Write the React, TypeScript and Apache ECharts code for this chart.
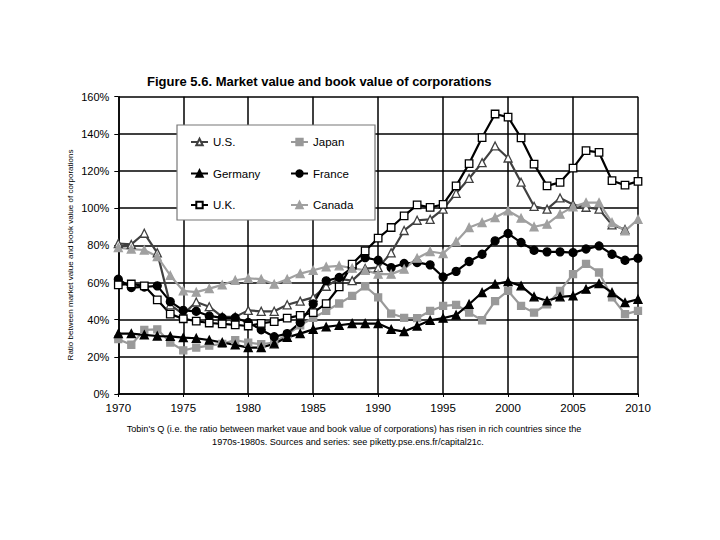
import React, { useEffect, useRef } from "react";
import * as echarts from "echarts";

const years = [
  1970, 1971, 1972, 1973, 1974, 1975, 1976, 1977, 1978, 1979,
  1980, 1981, 1982, 1983, 1984, 1985, 1986, 1987, 1988, 1989,
  1990, 1991, 1992, 1993, 1994, 1995, 1996, 1997, 1998, 1999,
  2000, 2001, 2002, 2003, 2004, 2005, 2006, 2007, 2008, 2009, 2010,
];

const us = [
  81, 80.5, 86.5, 76, 48, 43, 49.5, 47, 41.5, 41.5,
  45, 44.5, 44.5, 48, 50, 52, 58, 62, 61, 67.5,
  68, 76, 88, 93.5, 94, 99.5, 108, 116, 124.5, 133.5,
  127, 114, 101, 99.5, 105.5, 102, 100.5, 99.5, 91, 88.5, null,
];

const japan = [
  29.5, 26.5, 34.5, 34.8, 27.7, 23.5, 25, 26, 27, 29,
  27.7, 26.8, 27.7, 32, 37, 41, 44.7, 48.7, 52.8, 58,
  52, 43.3, 41, 40.8, 44.7, 47.4, 48, 43.8, 39.7, 50,
  55.5, 47.4, 43.8, 48.3, 55.5, 64.5, 70, 65.4, 52, 43, 44.7,
];

const germany = [
  32.5, 32.5, 31.8, 31.2, 31, 30.3, 30, 29, 27.7, 26.4,
  25, 25, 27, 30.5, 32.5, 34.8, 36.1, 37, 37.9, 37.9,
  37.9, 34.8, 33.6, 36.6, 39.7, 40.8, 42.5, 48.3, 54.6, 59.1,
  60.5, 58.2, 52.3, 50.1, 52.3, 52.8, 56.4, 59.4, 54.6, 49.2, 51,
];

const france = [
  61.8, 57.3, 57.6, 58.2, 49.7, 45, 44.5, 42, 41, 41,
  38.5, 34.6, 30.8, 32.5, 38.5, 48.5, 60.9, 62.7, 68, 73.4,
  72, 68, 70.2, 70.8, 69.5, 63, 66, 71.3, 75.2, 82.4,
  86.4, 81.5, 77.4, 76.5, 76.5, 76.1, 78, 79.7, 75.2, 72, 73.1,
];

const uk = [
  58.7, 59.2, 58.2, 50.7, 43, 40.5, 39.2, 38.2, 37.7, 37.2,
  36.6, 38, 39, 40.8, 42.3, 43.8, 48.6, 57.6, 69.9, 77,
  83.9, 89.6, 95.9, 101.8, 100.4, 102, 112, 124, 138, 150.7,
  149, 137.8, 123.7, 112, 113.9, 121.6, 131, 130, 114.8, 112.4, 114.4,
];

const canada = [
  78.8, 78, 77.5, 74, 63.8, 55.5, 54.8, 56.7, 58.7, 61.2,
  62.3, 61.8, 59.1, 61.8, 64.8, 66.6, 68.4, 69, 67.7, 66.6,
  64.5, 64.5, 67.2, 73.1, 76.7, 75.6, 82, 89.6, 92.3, 95,
  98.6, 94.6, 90, 91.4, 96.8, 100.7, 103, 103, 92.3, 87.8, 94,
];

const titleText = "Figure 5.6. Market value and book value of corporations";
const yAxisTitle = "Ratio between market value and book value of corporations";
const noteLine1 =
  "Tobin's Q (i.e. the ratio between market vaue and book value of corporations) has risen in rich countries since the";
const noteLine2 = "1970s-1980s. Sources and series: see piketty.pse.ens.fr/capital21c.";

const FONT = "'Liberation Sans', Arial, Helvetica, sans-serif";

const pairs = (vals: (number | null)[]) => years.map((y, i) => [y, vals[i]]);

export default function App() {
  const ref = useRef<HTMLDivElement>(null);

  useEffect(() => {
    if (!ref.current) return;
    const chart = echarts.init(ref.current, null, { renderer: "svg" });

    const lineSeries = (
      name: string,
      vals: (number | null)[],
      color: string,
      symbol: string,
      fill: string,
      size: number
    ) => ({
      name,
      type: "line",
      data: pairs(vals),
      symbol,
      symbolSize: size,
      showAllSymbol: true,
      connectNulls: false,
      lineStyle: { color, width: 2.2 },
      itemStyle: { color: fill, borderColor: color, borderWidth: 1.3 },
      emphasis: { disabled: true },
    });

    const legendCommon = {
      orient: "vertical",
      top: 135,
      padding: 0,
      itemWidth: 17,
      itemHeight: 8,
      itemGap: 17.5,
      textStyle: { fontFamily: FONT, fontSize: 11.5, color: "#000", lineHeight: 14 },
      selectedMode: false,
      z: 10,
    };

    chart.setOption({
      animation: false,
      backgroundColor: "#fff",
      title: {
        text: titleText,
        left: 147,
        top: 75,
        padding: 0,
        textStyle: { fontFamily: FONT, fontSize: 13, fontWeight: "bold", color: "#000" },
      },
      grid: { left: 118.3, right: 82, top: 96.7, bottom: 146, containLabel: false },
      xAxis: {
        type: "value",
        min: 1970,
        max: 2010,
        interval: 5,
        axisLine: { show: true, lineStyle: { color: "#000", width: 1.5 } },
        axisTick: { show: true, length: 3, lineStyle: { color: "#000", width: 1 } },
        axisLabel: {
          fontFamily: FONT,
          fontSize: 11.5,
          color: "#000",
          margin: 8,
          formatter: (v: number) => String(v),
        },
        splitLine: { show: true, lineStyle: { color: "#000", width: 1.5 } },
      },
      yAxis: {
        type: "value",
        min: 0,
        max: 160,
        interval: 20,
        axisLine: { show: true, lineStyle: { color: "#000", width: 1.5 } },
        axisTick: { show: true, length: 4, lineStyle: { color: "#000", width: 1 } },
        axisLabel: { fontFamily: FONT, fontSize: 11, color: "#000", margin: 9, formatter: "{value}%" },
        splitLine: { show: true, lineStyle: { color: "#000", width: 1.5 } },
      },
      legend: [
        { ...legendCommon, left: 190, data: ["U.S.", "Germany", "U.K."] },
        { ...legendCommon, left: 290, data: ["Japan", "France", "Canada"] },
      ],
      graphic: [
        {
          type: "rect",
          z: 5,
          shape: { x: 177, y: 125, width: 198, height: 95 },
          style: { fill: "#fff", stroke: "#777", lineWidth: 1.2 },
        },
        {
          type: "text",
          x: 70,
          y: 255,
          rotation: Math.PI / 2,
          style: {
            text: yAxisTitle,
            fontFamily: FONT,
            fontSize: 8,
            fill: "#000",
            align: "center",
            verticalAlign: "middle",
          },
        },
        {
          type: "text",
          x: 354,
          y: 429,
          style: {
            text: noteLine1,
            fontFamily: FONT,
            fontSize: 9.1,
            fill: "#000",
            align: "center",
            verticalAlign: "middle",
          },
        },
        {
          type: "text",
          x: 348,
          y: 442,
          style: {
            text: noteLine2,
            fontFamily: FONT,
            fontSize: 9.1,
            fill: "#000",
            align: "center",
            verticalAlign: "middle",
          },
        },
      ],
      series: [
        lineSeries("U.S.", us, "#404040", "triangle", "#fff", 8),
        lineSeries("Japan", japan, "#999999", "rect", "#999999", 7),
        lineSeries("Germany", germany, "#000000", "triangle", "#000000", 8),
        lineSeries("France", france, "#000000", "circle", "#000000", 8),
        lineSeries("U.K.", uk, "#000000", "rect", "#fff", 7.5),
        lineSeries("Canada", canada, "#a0a0a0", "triangle", "#a0a0a0", 8),
      ],
    });

    return () => chart.dispose();
  }, []);

  return (
    <div
      ref={ref}
      style={{ position: "fixed", left: 0, top: 0, width: 720, height: 540, background: "#fff" }}
    />
  );
}
